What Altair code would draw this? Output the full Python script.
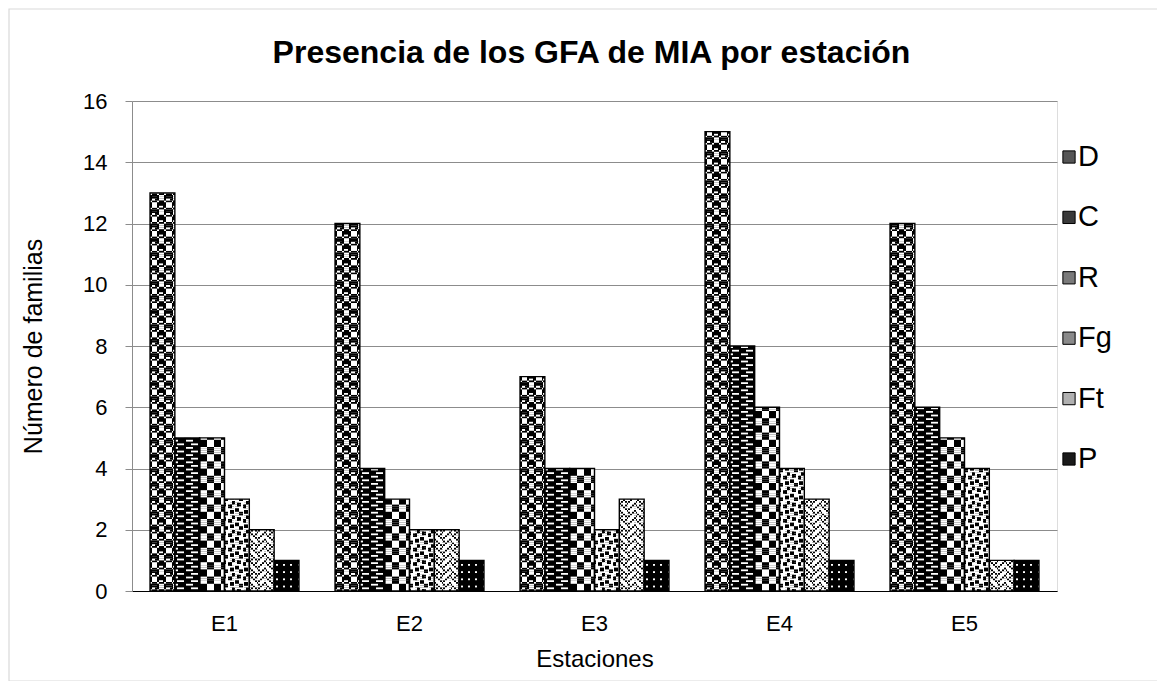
import math
import altair as alt
import pandas as pd

# ---------------- data ----------------
stations = ["E1", "E2", "E3", "E4", "E5"]
groups = ["D", "C", "R", "Fg", "Ft", "P"]
D_vals = [13, 12, 7, 15, 12]
C_vals = [5, 4, 4, 8, 6]
R_vals = [5, 3, 4, 6, 5]
Fg_vals = [3, 2, 2, 4, 4]
Ft_vals = [2, 2, 3, 3, 1]
P_vals = [1, 1, 1, 1, 1]
series = {"D": D_vals, "C": C_vals, "R": R_vals, "Fg": Fg_vals, "Ft": Ft_vals, "P": P_vals}
y_ticks = [0, 2, 4, 6, 8, 10, 12, 14, 16]
title_text = "Presencia de los GFA de MIA por estación"

# ---------------- layout / style ----------------
FONT = "Liberation Sans"
W_PLOT, H_PLOT, Y_MAX = 925, 490, 16
PPU = H_PLOT / Y_MAX
PAD_IN = 0.195
STEP = W_PLOT / len(stations)
BAR_W = STEP * (1 - PAD_IN) / len(groups)
PS = 1.8  # size of one pattern pixel


def hex_rows(codes):
    return [format(c, "08b") for c in codes]


tiles = {
    "D": hex_rows([0x77, 0x98, 0xF8, 0xF8, 0x77, 0x89, 0x8F, 0x8F]),
    "C": ["11111111", "10000111", "11111111", "00111100"],
    "R": ["11110000"] * 4 + ["00001111"] * 4,
    "Fg": hex_rows([0x8D, 0x0C, 0xC0, 0xD8, 0x1B, 0x03, 0x30, 0xB1]),
    "Ft": hex_rows([0x88, 0x54, 0x22, 0x45, 0x88, 0x14, 0x22, 0x51]),
    "P": ["1111", "1111", "1011", "1111"],
}


def row_gradient(row, width=BAR_W):
    n = math.ceil(width / PS)
    bits = [row[k % len(row)] for k in range(n)]
    stops = []
    k = 0
    while k < n:
        j = k
        while j < n and bits[j] == bits[k]:
            j += 1
        col = "#000000" if bits[k] == "1" else "#ffffff"
        a = min(k * PS / width, 1.0)
        b = min(j * PS / width, 1.0)
        stops.append(alt.GradientStop(offset=round(a, 4), color=col))
        stops.append(alt.GradientStop(offset=round(b, 4), color=col))
        k = j
    return alt.LinearGradient(gradient="linear", stops=stops, x1=0, x2=1, y1=0, y2=0)


bars = pd.DataFrame(
    [{"Estacion": s, "Grupo": g, "valor": series[g][i]} for g in groups for i, s in enumerate(stations)]
)

base_row = {g: max(set(t), key=t.count) for g, t in tiles.items()}

recs = []
for g in groups:
    t = tiles[g]
    for i, s in enumerate(stations):
        v = series[g][i]
        r = 0
        while r * PS < v * PPU - 0.01:
            row = t[r % len(t)]
            if row != base_row[g]:
                recs.append({
                    "Estacion": s, "Grupo": g, "rt": g + "|" + row,
                    "y0": r * PS / PPU, "y1": min((r + 1) * PS / PPU, v),
                })
            r += 1
rows = pd.DataFrame(recs)

x_enc = alt.X("Estacion:N", scale=alt.Scale(domain=stations, paddingInner=PAD_IN, paddingOuter=PAD_IN / 2),
              axis=alt.Axis(title="Estaciones", labelAngle=0, ticks=False, domainColor="#000000",
                            domainWidth=1.2, labelPadding=22, titlePadding=13, labelFontSize=22,
                            titleFontSize=24, labelFont=FONT, titleFont=FONT, labelColor="#000",
                            titleColor="#000", titleFontWeight="normal"))
xo_enc = alt.XOffset("Grupo:N", scale=alt.Scale(domain=groups))
y_scale = alt.Scale(domain=[0, Y_MAX], nice=False)
y_axis = alt.Axis(title="Número de familias", values=y_ticks, grid=True, gridColor="#8c8c8c",
                  domainColor="#8c8c8c", tickColor="#8c8c8c", tickSize=7, labelPadding=18,
                  titlePadding=36, labelFontSize=22, titleFontSize=25, labelFont=FONT,
                  titleFont=FONT, labelColor="#000", titleColor="#000", titleFontWeight="normal")

layers = []
for g in groups:
    layers.append(
        alt.Chart(bars[bars.Grupo == g]).mark_bar(color=row_gradient(base_row[g]), strokeWidth=0).encode(
            x=x_enc, xOffset=xo_enc,
            y=alt.Y("valor:Q", scale=y_scale, axis=y_axis),
        )
    )
for g in groups:
    for row in sorted(set(tiles[g])):
        if row == base_row[g]:
            continue
        sub = rows[rows.rt == g + "|" + row]
        if sub.empty:
            continue
        layers.append(
            alt.Chart(sub).mark_bar(color=row_gradient(row), strokeWidth=0).encode(
                x=x_enc, xOffset=xo_enc,
                y=alt.Y("y0:Q", scale=y_scale, axis=y_axis), y2="y1:Q",
            )
        )
layers.append(
    alt.Chart(bars).mark_bar(fillOpacity=0, stroke="#000000", strokeWidth=1.4).encode(
        x=x_enc, xOffset=xo_enc, y=alt.Y("valor:Q", scale=y_scale, axis=y_axis),
    )
)
main = alt.layer(*layers)

# legend
leg_df = pd.DataFrame({"Grupo": groups})
greys = ["#555555", "#3a3a3a", "#7a7a7a", "#8a8a8a", "#b0b0b0", "#1a1a1a"]
leg_y = alt.Y("Grupo:N", scale=alt.Scale(domain=groups, type="point", range=[56, 358], padding=0),
              axis=None)
leg_sw = alt.Chart(leg_df).mark_square(size=150, stroke="#000", strokeWidth=1, opacity=1).encode(
    x=alt.value(W_PLOT + 12), y=leg_y,
    fill=alt.Fill("Grupo:N", scale=alt.Scale(domain=groups, range=greys), legend=None),
)
leg_tx = alt.Chart(leg_df).mark_text(align="left", baseline="middle", fontSize=29, font=FONT,
                                     color="#000").encode(
    x=alt.value(W_PLOT + 21), y=leg_y, text="Grupo:N",
)
title_df = pd.DataFrame({"t": [title_text]})
title_mark = alt.Chart(title_df).mark_text(align="center", baseline="alphabetic", fontSize=32, font=FONT,
                                           fontWeight="bold", color="#000").encode(
    x=alt.value(W_PLOT / 2 - 3), y=alt.value(-38), text="t:N",
)
frame = alt.Chart(leg_df.head(1)).mark_rect(fill="transparent", stroke="#d9d9d9", strokeWidth=1.2).encode(
    x=alt.value(-123), x2=alt.value(W_PLOT + 107), y=alt.value(-92), y2=alt.value(H_PLOT + 90),
)

chart = alt.layer(main, leg_sw, leg_tx, title_mark, frame).resolve_scale(
    y="independent", fill="independent"
).properties(
    width=W_PLOT, height=H_PLOT,
    autosize=alt.AutoSizeParams(type="none"),
    padding={"left": 124, "top": 93, "right": 100, "bottom": 90},
).configure_view(stroke=None).configure(background="white")

chart.save("out.html", embed_options={"renderer": "svg", "actions": False})
